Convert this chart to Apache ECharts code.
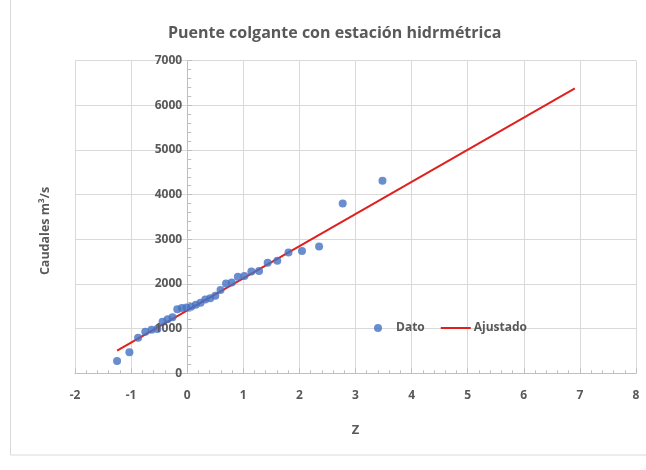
<!DOCTYPE html>
<html>
<head>
<meta charset="utf-8">
<script src="https://cdn.jsdelivr.net/npm/echarts@6/dist/echarts.min.js"></script>
<style>html,body{margin:0;padding:0;background:#fff;}#c{width:646px;height:470px;}</style>
</head>
<body>
<div id="c"></div>
<script>
// Data
var zValues = [-1.25, -1.03, -0.875, -0.747, -0.635, -0.533, -0.439, -0.349, -0.262, -0.177, -0.094, -0.012, 0.071, 0.154, 0.238, 0.323, 0.411, 0.501, 0.594, 0.692, 0.794, 0.903, 1.019, 1.144, 1.281, 1.434, 1.606, 1.806, 2.046, 2.351, 2.772, 3.481];
var caudales = [275, 470, 797, 931, 975, 990, 1155, 1208, 1253, 1432, 1465, 1475, 1490, 1535, 1579, 1655, 1678, 1736, 1864, 2013, 2036, 2161, 2177, 2282, 2290, 2474, 2519, 2706, 2736, 2841, 3803, 4309];
var fitZ = [-1.25, 6.91];
var fitQ = [506, 6380];
var titleText = 'Puente colgante con estación hidrmétrica';
var xAxisTitle = 'Z';
var yAxisTitle = 'Caudales m³/s';
var legendNames = ['Dato', 'Ajustado'];

var datoPts = zValues.map(function (z, i) { return [z, caudales[i]]; });
var fitPts = fitZ.map(function (z, i) { return [z, fitQ[i]]; });

var txt = '#595959';
var font = 'Open Sans';
var gridLeft = 75, gridRight = 10, W = 646;
var xMin = -2, xMax = 8;
// shift the y axis so it sits at x = 0 (as in the reference)
var yAxisOffset = -((0 - xMin) / (xMax - xMin)) * (W - gridLeft - gridRight);
var labelStyle = {color: txt, fontSize: 12, fontWeight: 'bold', fontFamily: font};

var chart = echarts.init(document.getElementById('c'), null, {renderer: 'canvas'});
chart.setOption({
  backgroundColor: '#ffffff',
  animation: false,
  title: {
    text: titleText, left: 163, top: 20,
    textStyle: {color: txt, fontSize: 16, fontWeight: 'bold', fontFamily: font}
  },
  legend: {
    left: 369, top: 317, itemGap: 16, itemWidth: 30, itemHeight: 8,
    symbolKeepAspect: true,
    textStyle: {color: txt, fontSize: 12, fontWeight: 'bold', fontFamily: font, padding: [0, 0, 0, -2]},
    data: [
      {name: legendNames[0], icon: 'circle'},
      {name: legendNames[1], icon: 'path://M0,0 L30,0 L30,2 L0,2 Z'}
    ]
  },
  grid: {left: gridLeft, right: gridRight, top: 60.7, bottom: 96.7, containLabel: false, outerBoundsMode: 'none'},
  xAxis: {
    type: 'value', min: xMin, max: xMax, interval: 1,
    name: xAxisTitle, nameLocation: 'middle', nameGap: 50,
    nameTextStyle: {color: txt, fontSize: 13, fontWeight: 'bold', fontFamily: font},
    axisLine: {onZero: true, lineStyle: {color: '#bfbfbf', width: 1}},
    axisTick: {show: true, inside: true, length: 5, lineStyle: {color: '#bfbfbf'}},
    minorTick: {show: true, splitNumber: 5, length: 3, lineStyle: {color: '#bfbfbf'}},
    axisLabel: Object.assign({margin: 16, showMinLabel: true, showMaxLabel: true}, labelStyle),
    splitLine: {show: true, lineStyle: {color: '#d9d9d9', width: 1}}
  },
  yAxis: [
    {
      type: 'value', min: 0, max: 7000, interval: 1000,
      position: 'left', offset: yAxisOffset,
      axisLine: {show: true, onZero: false, lineStyle: {color: '#bfbfbf', width: 1}},
      axisTick: {show: true, inside: true, length: 5, lineStyle: {color: '#bfbfbf'}},
      minorTick: {show: true, splitNumber: 5, length: 4, lineStyle: {color: '#bfbfbf'}},
      axisLabel: {show: false},
      splitLine: {show: true, lineStyle: {color: '#d9d9d9', width: 1}}
    },
    {
      type: 'value', min: 0, max: 7000, interval: 1000,
      position: 'left', offset: yAxisOffset, z: 6,
      axisLine: {show: false, onZero: false},
      axisTick: {show: false},
      axisLabel: Object.assign({margin: 5, formatter: function (v) { return String(v); }}, labelStyle),
      splitLine: {show: false}
    }
  ],
  series: [
    {
      name: legendNames[0], type: 'scatter', data: datoPts, yAxisIndex: 0,
      symbol: 'circle', symbolSize: 8,
      itemStyle: {color: '#4472c4'}, z: 3
    },
    {
      name: legendNames[1], type: 'line', data: fitPts, yAxisIndex: 0,
      showSymbol: false, symbol: 'none',
      lineStyle: {color: '#e0201e', width: 2}, itemStyle: {color: '#e0201e'}, z: 2
    }
  ],
  graphic: [
    {
      type: 'rect', shape: {x: 10.5, y: -2, width: 640, height: 457},
      style: {fill: 'none', stroke: '#d9d9d9', lineWidth: 1}, silent: true, z: -10
    },
    {
      type: 'text', x: 45, y: 231, rotation: Math.PI / 2, silent: true,
      style: {text: yAxisTitle, fill: txt, font: 'bold 12.5px "Open Sans"', align: 'center', verticalAlign: 'middle'}
    }
  ]
});
</script>
</body>
</html>
